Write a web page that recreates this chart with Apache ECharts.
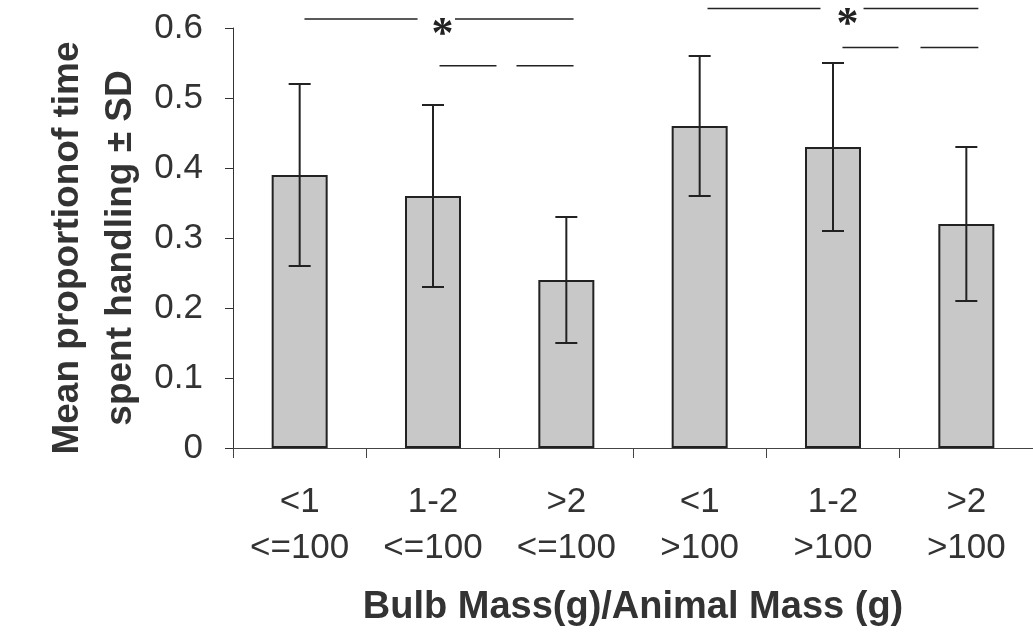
<!DOCTYPE html>
<html>
<head>
<meta charset="utf-8">
<script src="https://cdn.jsdelivr.net/npm/echarts@6/dist/echarts.min.js"></script>
<style>
html,body{margin:0;padding:0;background:#fff;}
#chart{width:1033px;height:634px;}
</style>
</head>
<body>
<div id="chart"></div>
<script>
// ---- data ----
var massRatio = ['<1', '1-2', '>2', '<1', '1-2', '>2'];
var animalMass = ['<=100', '<=100', '<=100', '>100', '>100', '>100'];
var meanValues = [0.39, 0.36, 0.24, 0.46, 0.43, 0.32];
var sdValues = [0.13, 0.13, 0.09, 0.10, 0.12, 0.11];
var yTicks = [0, 0.1, 0.2, 0.3, 0.4, 0.5, 0.6];
// significance brackets: [xStart, xEnd, y] in category units (0..6)
var sigLines = [
  [0.536, 1.384, 0.613], [1.665, 2.554, 0.613],
  [1.549, 1.976, 0.546], [2.126, 2.554, 0.546],
  [3.559, 4.406, 0.628], [4.729, 5.590, 0.628],
  [4.571, 4.991, 0.572], [5.156, 5.590, 0.572]
];
var sigStars = [[1.571, 0.613], [4.609, 0.628]];
var yTitle = 'Mean proportionof time\nspent handling \u00b1 SD';
var xTitle = 'Bulb Mass(g)/Animal Mass (g)';

var categories = massRatio.map(function (m, i) { return m + '\n' + animalMass[i]; });
var errData = meanValues.map(function (v, i) { return [i, v - sdValues[i], v + sdValues[i]]; });

var chart = echarts.init(document.getElementById('chart'), null, {renderer: 'canvas'});
var fontFam = '"Liberation Sans", Arial, sans-serif';

chart.setOption({
  animation: false,
  backgroundColor: '#ffffff',
  grid: {left: 233, right: 0, top: 28, bottom: 186, containLabel: false},
  xAxis: [{
    type: 'category',
    data: categories,
    boundaryGap: true,
    axisLine: {lineStyle: {color: '#444', width: 1}},
    axisTick: {show: true, length: 10, lineStyle: {color: '#444'}},
    axisLabel: {
      margin: 31, color: '#333', fontSize: 35, lineHeight: 46,
      fontFamily: fontFam, interval: 0
    },
    name: xTitle,
    nameLocation: 'middle',
    nameGap: 141,
    nameTextStyle: {fontSize: 38, fontWeight: 'bold', color: '#333', fontFamily: fontFam}
  }, {
    type: 'value', min: 0, max: 6, show: false
  }],
  yAxis: {
    type: 'value', min: 0, max: 0.6, interval: 0.1,
    axisLine: {show: true, lineStyle: {color: '#333', width: 1}},
    axisTick: {show: true, length: 8, lineStyle: {color: '#333'}},
    splitLine: {show: false},
    axisLabel: {
      margin: 30, color: '#333', fontSize: 35, fontFamily: fontFam,
      formatter: function (v) {
        var idx = yTicks.indexOf(Math.round(v * 10) / 10);
        return idx === 0 ? '0' : v.toFixed(1);
      }
    }
  },
  graphic: [{
    type: 'text',
    x: 94, y: 248,
    rotation: Math.PI / 2,
    style: {
      text: yTitle,
      align: 'center', verticalAlign: 'middle',
      font: 'bold 37px ' + fontFam,
      lineHeight: 53,
      fill: '#333'
    }
  }],
  series: [{
    type: 'bar',
    data: meanValues,
    barWidth: 56,
    itemStyle: {color: '#c8c8c8', borderColor: '#222', borderWidth: 2},
    z: 2
  }, {
    type: 'custom',
    data: errData,
    z: 3,
    renderItem: function (params, api) {
      var x = api.value(0);
      var lo = api.coord([x, api.value(1)]);
      var hi = api.coord([x, api.value(2)]);
      var hw = 11;
      var st = {stroke: '#222', lineWidth: 2};
      return {type: 'group', children: [
        {type: 'line', shape: {x1: lo[0], y1: lo[1], x2: hi[0], y2: hi[1]}, style: st},
        {type: 'line', shape: {x1: hi[0] - hw, y1: hi[1], x2: hi[0] + hw, y2: hi[1]}, style: st},
        {type: 'line', shape: {x1: lo[0] - hw, y1: lo[1], x2: lo[0] + hw, y2: lo[1]}, style: st}
      ]};
    }
  }, {
    type: 'custom',
    xAxisIndex: 1,
    data: sigLines,
    clip: false,
    z: 3,
    renderItem: function (params, api) {
      var a = api.coord([api.value(0), api.value(2)]);
      var b = api.coord([api.value(1), api.value(2)]);
      return {type: 'line', shape: {x1: a[0], y1: a[1], x2: b[0], y2: b[1]},
        style: {stroke: '#222', lineWidth: 1.5}};
    }
  }, {
    type: 'custom',
    xAxisIndex: 1,
    data: sigStars,
    clip: false,
    z: 3,
    renderItem: function (params, api) {
      var p = api.coord([api.value(0), api.value(1)]);
      return {type: 'text', x: p[0], y: p[1] + 17,
        style: {text: '*', align: 'center', verticalAlign: 'middle',
          font: 'bold 44px "Liberation Serif", serif', fill: '#222'}};
    }
  }]
});
</script>
</body>
</html>
